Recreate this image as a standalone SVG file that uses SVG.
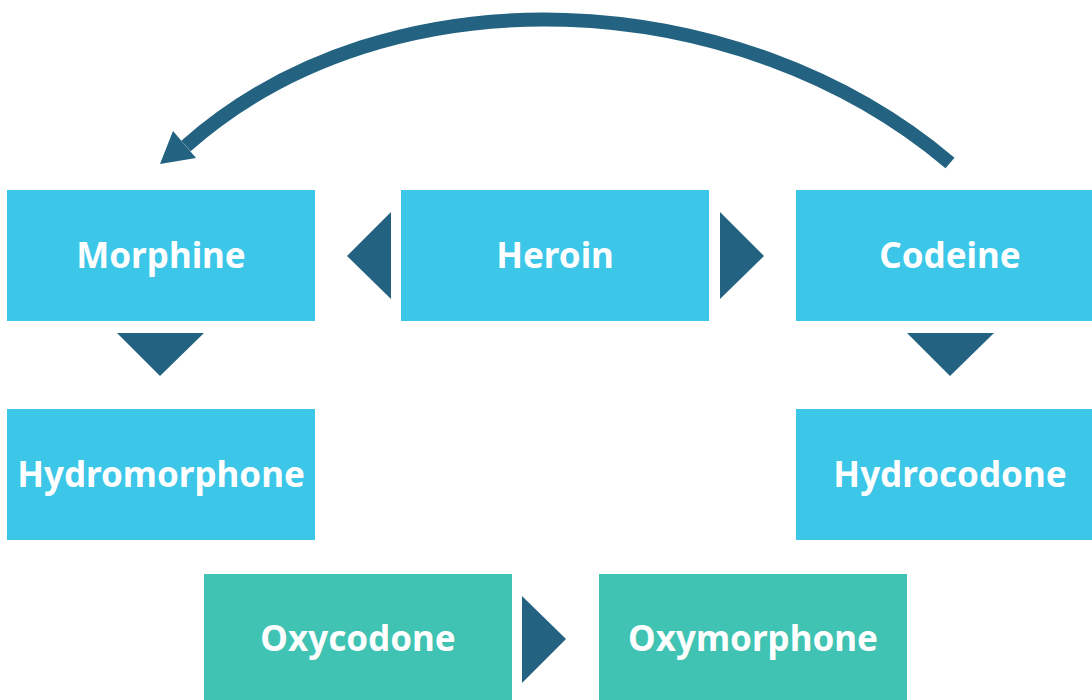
<svg xmlns="http://www.w3.org/2000/svg" width="1092" height="700" viewBox="0 0 1092 700">
<style>
.b{fill:#3CC6E8}
.g{fill:#40C3B3}
.t{fill:#fff;font-family:"Noto Sans",sans-serif;font-weight:bold;font-size:35px;text-anchor:middle}
.d{fill:#236381}
</style>
<rect width="1092" height="700" fill="#fff"/>
<g id="morphine"><rect class="b" x="7" y="190" width="308" height="131"/><text class="t" x="161" y="268">Morphine</text></g>
<g id="heroin"><rect class="b" x="401" y="190" width="308" height="131"/><text class="t" x="555" y="268">Heroin</text></g>
<g id="codeine"><rect class="b" x="796" y="190" width="296" height="131"/><text class="t" x="950" y="268">Codeine</text></g>
<g id="hydromorphone"><rect class="b" x="7" y="409" width="308" height="131"/><text class="t" x="161" y="487">Hydromorphone</text></g>
<g id="hydrocodone"><rect class="b" x="796" y="409" width="296" height="131"/><text class="t" x="950" y="487">Hydrocodone</text></g>
<g id="oxycodone"><rect class="g" x="204" y="574" width="308" height="126"/><text class="t" x="358" y="651">Oxycodone</text></g>
<g id="oxymorphone"><rect class="g" x="599" y="574" width="308" height="126"/><text class="t" x="753" y="651">Oxymorphone</text></g>
<g id="connectors">
<polygon class="d" points="391,212 391,299 347,256"/>
<polygon class="d" points="720,212 720,299 764,256"/>
<polygon class="d" points="117,333 204,333 160,376"/>
<polygon class="d" points="907,333 994,333 950,376"/>
<polygon class="d" points="522,596 522,683 566,639"/>
<path d="M950,163 C740,-15 390,-35 186,146" fill="none" stroke="#236381" stroke-width="14"/>
<polygon class="d" points="160,164 173,131 196,158"/>
</g>
</svg>
